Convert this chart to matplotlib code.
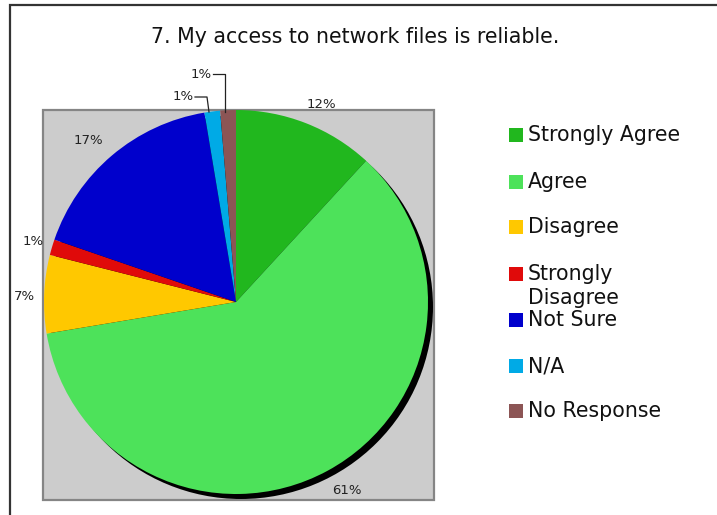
import numpy as np
import matplotlib
matplotlib.use("Agg")
import matplotlib.pyplot as plt
from matplotlib.patches import Rectangle, Circle

# ---- data ----
title = "7. My access to network files is reliable."
categories = ["Strongly Agree", "Agree", "Disagree", "Strongly\nDisagree",
              "Not Sure", "N/A", "No Response"]
counts = [9, 46, 5, 1, 13, 1, 1]
colors = ["#21B71E", "#4DE25A", "#FFC800", "#E00A0A", "#0000CC", "#00AAE6", "#8C5555"]

W, H = 717, 515
fig = plt.figure(figsize=(W / 100, H / 100), dpi=100)
ax = fig.add_axes([0, 0, 1, 1])

cx, cy, R = 236, H - 302, 192

# outer frame (left + top)
ax.plot([10, 10, W + 5], [-5, H - 5, H - 5], color="#333333", lw=1.6,
        solid_joinstyle="miter", zorder=1)

# plot area
ax.add_patch(Rectangle((43, H - 500), 391, 390, facecolor="#CCCCCC",
                       edgecolor="#858585", lw=1.6, zorder=1))

# shadow
ax.add_patch(Circle((cx + 5, cy - 5), R, facecolor="black", edgecolor="none", zorder=2))

wedges, _ = ax.pie(counts, colors=colors, startangle=90, counterclock=False,
                   radius=R, center=(cx, cy),
                   wedgeprops=dict(linewidth=0, zorder=3))
for w in wedges:
    w.set_zorder(3)

total = sum(counts)
pcts = [100 * c / total for c in counts]
labels = [f"{int(np.floor(p + 0.5))}%" for p in pcts]

# label placement (radius factor, angle shift) and overrides for the two small top slices
radius_fac = [1.12, 1.14, 1.10, 1.10, 1.14, None, None]
angle_shift = [2, -2, -1, 0, -2, 0, 0]
cum = np.cumsum([0] + counts)
for i, lab in enumerate(labels):
    mid = (cum[i] + cum[i + 1]) / 2 / total * 360 + angle_shift[i]  # clockwise from top
    if radius_fac[i] is not None:
        r = R * radius_fac[i]
        x = cx + r * np.sin(np.radians(mid))
        y = cy + r * np.cos(np.radians(mid))
        ax.text(x, y, lab, ha="center", va="center", fontsize=9.5,
                color="#222222", zorder=5)

# leader-lined labels
ax.text(183, H - 97, labels[5], ha="center", va="center", fontsize=9.5, color="#222222", zorder=5)
ax.plot([195, 207, 209], [H - 97, H - 97, H - 112], color="#222222", lw=0.9, zorder=5)
ax.text(201, H - 74, labels[6], ha="center", va="center", fontsize=9.5, color="#222222", zorder=5)
ax.plot([213, 225, 225], [H - 74, H - 74, H - 112], color="#222222", lw=0.9, zorder=5)

# title
ax.text(355, H - 37, title, ha="center", va="center", fontsize=14.8, color="#111111")

# legend
leg_y = [135, 182, 227, 274, 320, 366, 411]
for c, lab, y in zip(colors, categories, leg_y):
    ax.add_patch(Rectangle((509, H - y - 7), 14, 14, facecolor=c, edgecolor="none"))
    for j, line in enumerate(lab.split("\n")):
        ax.text(528, H - y - 24 * j, line, ha="left", va="center",
                fontsize=14.8, color="#111111")

ax.set_xlim(0, W)
ax.set_ylim(0, H)
ax.axis("off")
fig.savefig("out.png", dpi=100)
